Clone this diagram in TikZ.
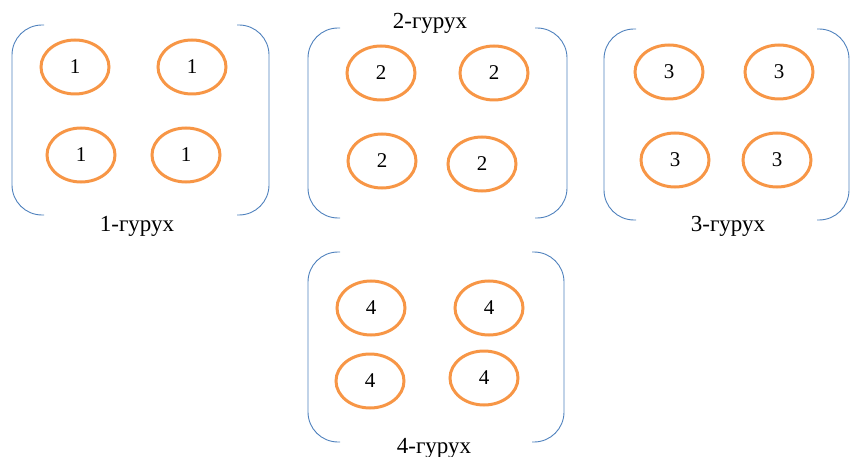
\documentclass[tikz,border=0pt]{standalone}
\usepackage{fontspec}
\setmainfont{Liberation Serif}
\usetikzlibrary{shapes.geometric}
\definecolor{brblue}{HTML}{4F81BD}
\definecolor{elor}{HTML}{F79646}
\tikzset{
  member/.style={ellipse, draw=elor, line width=3pt, minimum width=68pt, minimum height=54pt, inner sep=0pt, font=\fontsize{21}{25}\selectfont},
  grplabel/.style={anchor=base, inner sep=0pt, font=\fontsize{23}{27}\selectfont},
  brk/.style={draw=brblue, line width=0.9pt, rounded corners=30pt}
}
\newcommand{\bracketpair}[4]{% x0 x1 ytop ybot
  \draw[brk] (#1+32,#3) -- (#1,#3) -- (#1,#4) -- (#1+32,#4);
  \draw[brk] (#2-32,#3) -- (#2,#3) -- (#2,#4) -- (#2-32,#4);
}
\begin{document}
\begin{tikzpicture}[x=1pt,y=-1pt]
\useasboundingbox (0,0) rectangle (851,457);
% group 1
\bracketpair{12}{269}{25}{215}
\node[member] (a1) at (75,67) {1};
\node[member] (a2) at (192,67) {1};
\node[member] (a3) at (81,155) {1};
\node[member] (a4) at (186,155) {1};
\node[grplabel] (l1) at (137,232) {1-гурух};
% group 2
\bracketpair{308}{567}{28}{218}
\node[member] (b1) at (381,73) {2};
\node[member] (b2) at (494,73) {2};
\node[member] (b3) at (382,161) {2};
\node[member] (b4) at (482,164) {2};
\node[grplabel] (l2) at (430,29) {2-гурух};
% group 3
\bracketpair{604}{849}{29}{220}
\node[member] (c1) at (669,72) {3};
\node[member] (c2) at (779,72) {3};
\node[member] (c3) at (675,160) {3};
\node[member] (c4) at (777,160) {3};
\node[grplabel] (l3) at (728,232) {3-гурух};
% group 4
\bracketpair{308}{564}{252}{442}
\node[member] (d1) at (371,308) {4};
\node[member] (d2) at (489,308) {4};
\node[member] (d3) at (370,381) {4};
\node[member] (d4) at (484,378) {4};
\node[grplabel] (l4) at (434,453) {4-гурух};
\end{tikzpicture}
\end{document}
